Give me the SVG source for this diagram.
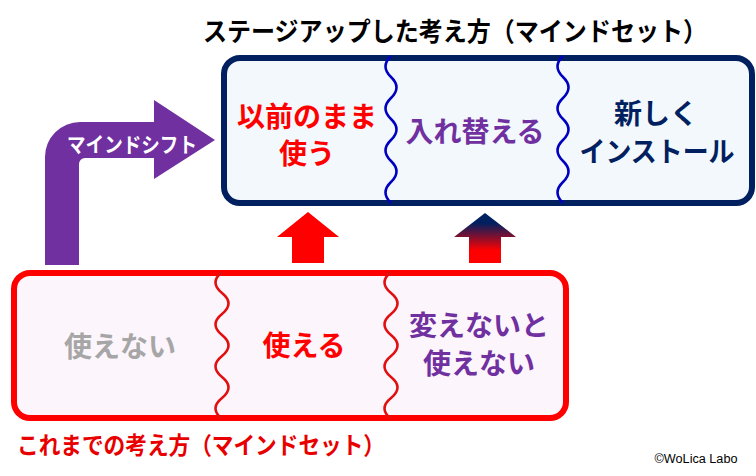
<svg xmlns="http://www.w3.org/2000/svg" width="756" height="476" viewBox="0 0 756 476">
<style>
.jp{font-family:"Noto Sans CJK JP","Noto Sans",sans-serif;font-weight:bold;text-anchor:middle}
.t28{font-size:28px}
.red{fill:#ff0000}
.pur{fill:#7030a0}
.navy{fill:#002060}
.gray{fill:#a6a6a6}
.wt{fill:none;stroke:#0000c0;stroke-width:2.6}
.wb{fill:none;stroke:#e01010;stroke-width:2.6}
</style>
<defs>
<linearGradient id="gUp" x1="0" y1="213" x2="0" y2="263" gradientUnits="userSpaceOnUse">
<stop offset="0.2" stop-color="#002060"/>
<stop offset="0.75" stop-color="#ff0000"/>
</linearGradient>
</defs>
<rect width="756" height="476" fill="#ffffff"/>

<g id="title-top">
<text class="jp" x="455" y="41" font-size="26" fill="#000" textLength="504" lengthAdjust="spacingAndGlyphs">ステージアップした考え方（マインドセット）</text>
</g>

<g id="top-box">
<rect x="224" y="58" width="528" height="145" rx="16" fill="#f2f8fc" stroke="#002060" stroke-width="6"/>
<path class="wt" d="M391,56 q-11,10.5 0,21 t0,21 t0,21 t0,21 t0,21 t0,21 t0,21"/>
<path class="wt" d="M563,56 q-11,10.5 0,21 t0,21 t0,21 t0,21 t0,21 t0,21 t0,21"/>
</g>
<g id="node-keep">
<text class="jp t28 red" x="307" y="127">以前のまま</text>
<text class="jp t28 red" x="307" y="164">使う</text>
</g>
<g id="node-replace">
<text class="jp t28 pur" x="475" y="142">入れ替える</text>
</g>
<g id="node-new">
<text class="jp t28 navy" x="656" y="124">新しく</text>
<text class="jp t28 navy" x="657" y="162" textLength="155" lengthAdjust="spacingAndGlyphs">インストール</text>
</g>

<g id="bottom-box">
<rect x="14" y="273" width="552" height="145" rx="16" fill="#fcf5fb" stroke="#ff0000" stroke-width="6"/>
<path class="wb" d="M222,272 q-13,10.5 0,21 t0,21 t0,21 t0,21 t0,21 t0,21 t0,21"/>
<path class="wb" d="M391,272 q-13,10.5 0,21 t0,21 t0,21 t0,21 t0,21 t0,21 t0,21"/>
</g>
<g id="node-unusable">
<text class="jp t28 gray" x="120" y="357">使えない</text>
</g>
<g id="node-usable">
<text class="jp t28 red" x="304" y="356">使える</text>
</g>
<g id="node-change">
<text class="jp t28 pur" x="479" y="336">変えないと</text>
<text class="jp t28 pur" x="479" y="374">使えない</text>
</g>
<g id="title-bottom">
<text class="jp" x="201" y="454" font-size="24" fill="#e80000" textLength="368" lengthAdjust="spacingAndGlyphs">これまでの考え方（マインドセット）</text>
</g>

<g id="connectors">
<path id="mind-shift" d="M45,265 L45,157 A35,35 0 0 1 80,122 L154,122 L154,100 L215,140 L154,179 L154,158 L85,158 A6,6 0 0 0 79,164 L79,265 Z" fill="#7030a0"/>
<text x="132" y="152" font-family="'Noto Sans CJK JP','Noto Sans',sans-serif" font-weight="bold" font-size="21" fill="#ffffff" text-anchor="middle" textLength="130" lengthAdjust="spacingAndGlyphs">マインドシフト</text>
<path id="up-red" d="M308,212 L339,237 L324,237 L324,263 L292,263 L292,237 L277,237 Z" fill="#ff0000"/>
<path id="up-grad" d="M485,213 L516,237 L501,237 L501,263 L469,263 L469,237 L454,237 Z" fill="url(#gUp)"/>
</g>

<text x="696" y="463" font-family="'Liberation Sans',sans-serif" font-size="12.5" fill="#000" text-anchor="middle" textLength="83" lengthAdjust="spacingAndGlyphs">©WoLica Labo</text>
</svg>
